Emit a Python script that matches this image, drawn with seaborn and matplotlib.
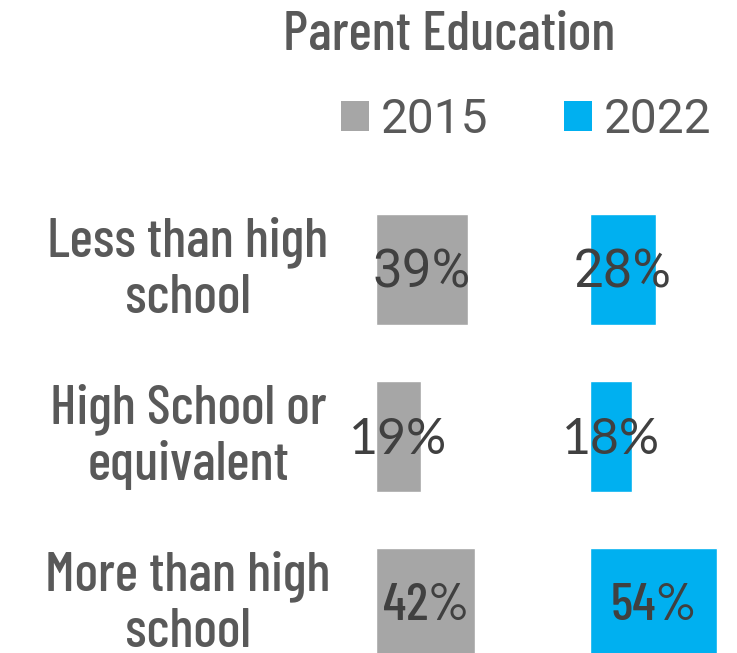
import matplotlib
matplotlib.use("Agg")
import matplotlib.pyplot as plt
import matplotlib.transforms as mtransforms
from matplotlib.patches import Patch
import seaborn as sns
import pandas as pd

categories = ["Less than high\nschool", "High School or\nequivalent", "More than high\nschool"]
years = ["2015", "2022"]
values_2015 = [39, 19, 42]
values_2022 = [28, 18, 54]
title = "Parent Education"

colors = {"2015": "#A6A6A6", "2022": "#00B0F0"}
text_color = "#595959"
value_color = "#404040"
narrow = ["Barlow Condensed", "DejaVu Sans"]

df = pd.DataFrame({
    "category": categories * 2,
    "year": [years[0]] * 3 + [years[1]] * 3,
    "value": values_2015 + values_2022,
})

sns.set_theme(style="white")
W, H = 737, 653
fig = plt.figure(figsize=(W / 100, H / 100), dpi=100)

px_per_pct = 2.36
top_px, bot_px = 186, 653
starts = {"2015": 376, "2022": 590}
ends = {"2015": 590, "2022": 737}

axes = {}
for yr in years:
    x0, x1 = starts[yr], ends[yr]
    ax = fig.add_axes([x0 / W, 1 - bot_px / H, (x1 - x0) / W, (bot_px - top_px) / H])
    sub = df[df["year"] == yr]
    sns.barplot(data=sub, x="value", y="category", order=categories, color=colors[yr],
                orient="h", width=0.665, ax=ax, saturation=1)
    ax.set_xlim(0, (x1 - x0) / px_per_pct)
    ax.set_ylim(2.296, -0.5)
    for s in ax.spines.values():
        s.set_visible(False)
    ax.set_xticks([])
    ax.set_yticks([])
    ax.set_xlabel("")
    ax.set_ylabel("")
    ax.patch.set_alpha(0)
    axes[yr] = ax

# value labels
label_fonts = [(["Roboto", "DejaVu Sans"], 400, 38), (["Lato", "DejaVu Sans"], 400, 36),
               (narrow, 500, 38)]
for yr, vals in zip(years, [values_2015, values_2022]):
    ax = axes[yr]
    for i, v in enumerate(vals):
        fam, wt, fs = label_fonts[i]
        ax.text(v / 2, i + 0.02, f"{v}%", ha="center", va="center", fontsize=fs,
                family=fam, fontweight=wt, color=value_color)

# category labels (two lines each, centred left of the bars)
ax0 = axes["2015"]
blend = mtransforms.blended_transform_factory(fig.transFigure, ax0.transData)
line_offsets = [13, -43]  # px, baseline offset from bar centre (up positive)
for i, cat in enumerate(categories):
    for line, dy in zip(cat.split("\n"), line_offsets):
        tr = mtransforms.offset_copy(blend, fig=fig, x=0, y=dy, units="dots")
        ax0.text(188 / W, i, line, transform=tr, ha="center", va="baseline",
                 fontsize=40, family=narrow, fontweight=500, color=text_color,
                 clip_on=False)

fig.text(449 / W, 1 - 35 / H, title, ha="center", va="center", fontsize=40,
         family=narrow, fontweight=500, color=text_color)

handles = [Patch(facecolor=colors[y], edgecolor="none", label=y) for y in years]
leg = fig.legend(handles=handles, loc="center", bbox_to_anchor=(526 / W, 1 - 120 / H), ncol=2,
                 frameon=False, prop={"family": ["Roboto", "DejaVu Sans"], "size": 34.5},
                 handlelength=0.58, handleheight=0.58, handletextpad=0.25,
                 columnspacing=1.58, borderpad=0, borderaxespad=0)
for t in leg.get_texts():
    t.set_color(text_color)

fig.savefig("out.png", dpi=100)
